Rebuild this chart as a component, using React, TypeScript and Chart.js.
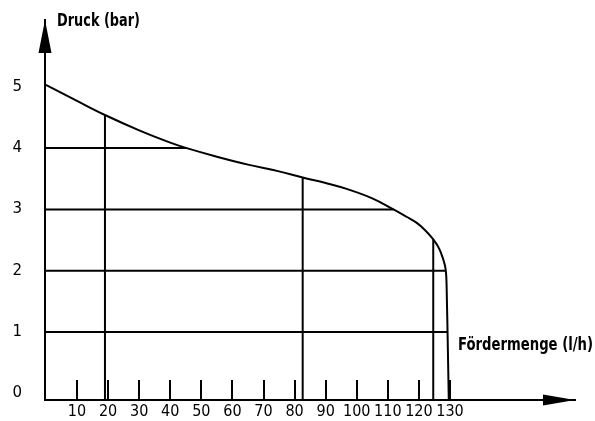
import { useEffect, useRef } from "react";
import { Chart, registerables } from "chart.js";

Chart.register(...registerables);

// Pump curve: flow (l/h) vs pressure (bar)
const curveFlow = [0, 10, 19, 30, 40, 45.3, 55, 65, 75, 82.6, 90, 97, 105, 111.8, 116, 119.3, 122, 124.6, 126.5, 127.9, 128.5, 128.8, 129.0, 129.2, 129.6];
const curvePressure = [5.03, 4.77, 4.54, 4.29, 4.09, 4.0, 3.86, 3.73, 3.62, 3.52, 3.43, 3.33, 3.18, 3.0, 2.88, 2.78, 2.66, 2.51, 2.36, 2.17, 2.05, 1.9, 1.5, 1.0, -0.11];

// Horizontal reading lines (pressure level -> flow where they meet the curve)
const hLineLevels = [4, 3, 2, 1];
const hLineEnds = [45.3, 111.8, 128.6, 129.2];

// Vertical reading lines (flow -> pressure where they meet the curve)
const vLineFlows = [19, 82.6, 124.6];
const vLineTops = [4.54, 3.52, 2.51];

const xTickValues = [10, 20, 30, 40, 50, 60, 70, 80, 90, 100, 110, 120, 130];
const yTickValues = [0, 1, 2, 3, 4, 5];

const X_MIN = -0.29;
const X_MAX = 170.2;
const Y_MIN = -0.11;
const Y_MAX = 6.09;

const yTitle = "Druck (bar)";
const xTitle = "Fördermenge (l/h)";

const decorPlugin = {
  id: "decor",
  afterDraw(chart: any) {
    const { ctx, chartArea, scales } = chart;
    const xs = scales.x;
    const ys = scales.y;
    const axisY = ys.getPixelForValue(Y_MIN);
    const axisX = xs.getPixelForValue(X_MIN);
    ctx.save();
    ctx.fillStyle = "#000";
    ctx.strokeStyle = "#000";
    // Y arrow
    ctx.beginPath();
    ctx.moveTo(axisX, chartArea.top);
    ctx.lineTo(axisX - 6.5, chartArea.top + 33);
    ctx.lineTo(axisX + 6.5, chartArea.top + 33);
    ctx.closePath();
    ctx.fill();
    // X arrow
    ctx.beginPath();
    ctx.moveTo(chartArea.right, axisY);
    ctx.lineTo(chartArea.right - 32, axisY - 5.5);
    ctx.lineTo(chartArea.right - 32, axisY + 5.5);
    ctx.closePath();
    ctx.fill();
    // x tick marks above axis
    ctx.lineWidth = 2;
    for (const v of xTickValues) {
      const px = Math.round(xs.getPixelForValue(v));
      ctx.beginPath();
      ctx.moveTo(px, axisY);
      ctx.lineTo(px, axisY - 20);
      ctx.stroke();
    }
    // titles
    ctx.font = "bold 18px 'Liberation Sans Narrow', 'DejaVu Sans Condensed', sans-serif";
    ctx.textBaseline = "alphabetic";
    ctx.textAlign = "left";
    const drawStretched = (t: string, x: number, y: number, w: number) => {
      const m = ctx.measureText(t).width;
      ctx.save();
      ctx.translate(x, y);
      ctx.scale(w / m, 1);
      ctx.fillText(t, 0, 0);
      ctx.restore();
    };
    drawStretched(yTitle, axisX + 12, 25.5, 83);
    drawStretched(xTitle, 458, ys.getPixelForValue(0.7), 135);
    ctx.restore();
  },
};

export default function App() {
  const ref = useRef<HTMLCanvasElement | null>(null);
  useEffect(() => {
    if (!ref.current) return;
    const line = (pts: { x: number; y: number }[], extra: any = {}) => ({
      data: pts,
      showLine: true,
      borderColor: "#000",
      borderWidth: 2,
      pointRadius: 0,
      fill: false,
      clip: false,
      tension: 0,
      ...extra,
    });
    const datasets: any[] = [
      line(
        curveFlow.map((x, i) => ({ x, y: curvePressure[i] })),
        { tension: 0.4 }
      ),
      ...hLineLevels.map((lvl, i) =>
        line([
          { x: 0, y: lvl },
          { x: hLineEnds[i], y: lvl },
        ])
      ),
      ...vLineFlows.map((f, i) =>
        line([
          { x: f, y: Y_MIN },
          { x: f, y: vLineTops[i] },
        ])
      ),
    ];
    const chart = new Chart(ref.current, {
      type: "scatter",
      data: { datasets },
      plugins: [decorPlugin],
      options: {
        animation: false,
        responsive: false,
        devicePixelRatio: 1,
        layout: { padding: { top: 20, right: 20, left: 0, bottom: 0 } },
        plugins: { legend: { display: false }, tooltip: { enabled: false }, title: { display: false } },
        scales: {
          x: {
            type: "linear",
            min: X_MIN,
            max: X_MAX,
            grid: { display: false, drawTicks: false },
            border: { display: true, color: "#000", width: 2 },
            afterBuildTicks: (s: any) => {
              s.ticks = xTickValues.map((v) => ({ value: v }));
            },
            afterFit: (s: any) => {
              s.height = 21;
              s.paddingLeft = 0;
              s.paddingRight = 0;
              s.paddingTop = 0;
              s.paddingBottom = 0;
            },
            ticks: {
              autoSkip: false,
              maxRotation: 0,
              padding: 2,
              color: "#000",
              font: { family: "'Liberation Sans Narrow', 'DejaVu Sans Condensed', sans-serif", size: 16 },
              callback: (v: any) => String(v),
            },
          },
          y: {
            type: "linear",
            min: Y_MIN,
            max: Y_MAX,
            grid: { display: false, drawTicks: false },
            border: { display: true, color: "#000", width: 2 },
            afterBuildTicks: (s: any) => {
              s.ticks = yTickValues.map((v) => ({ value: v }));
            },
            afterFit: (s: any) => {
              s.width = 45;
              s.paddingLeft = 0;
              s.paddingRight = 0;
              s.paddingTop = 0;
              s.paddingBottom = 0;
            },
            ticks: {
              autoSkip: false,
              padding: 23,
              color: "#000",
              font: { family: "'DejaVu Sans', sans-serif", size: 15 },
              callback: (v: any) => String(v),
            },
          },
        },
      },
    });
    return () => chart.destroy();
  }, []);
  return (
    <div style={{ position: "fixed", left: 0, top: 0, width: 595, height: 421, background: "#fff" }}>
      <canvas ref={ref} width={595} height={421} style={{ width: 595, height: 421, display: "block" }} />
    </div>
  );
}
